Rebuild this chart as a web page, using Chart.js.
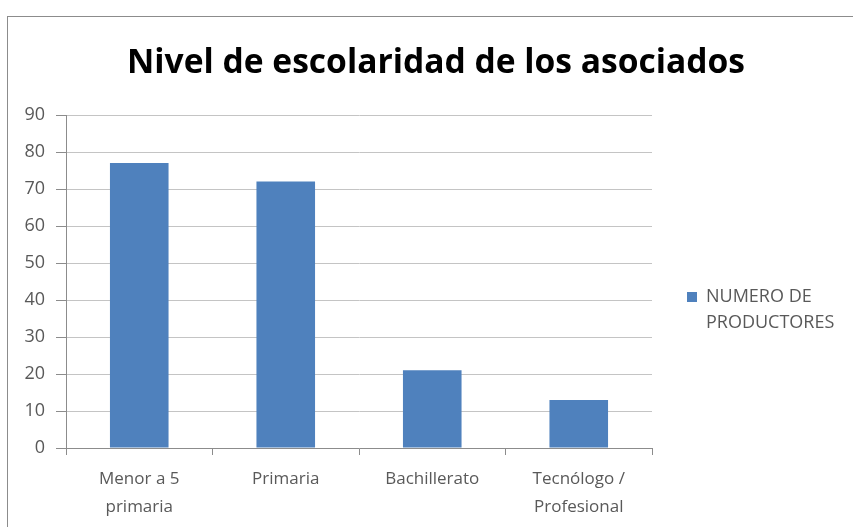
<!DOCTYPE html>
<html>
<head>
<meta charset="utf-8">
<script src="https://cdn.jsdelivr.net/npm/chart.js@4.4.0/dist/chart.umd.min.js"></script>
<style>
  html, body { margin: 0; padding: 0; background: #fff; }
  #wrap { width: 853px; height: 527px; }
</style>
</head>
<body>
<div id="wrap"><canvas id="myChart" width="853" height="527"></canvas></div>
<script>
// datos
const categorias = [["Menor a 5", "primaria"], "Primaria", "Bachillerato", ["Tecnólogo /", "Profesional"]];
const productores = [77, 72, 21, 13];
const serieNombre = ["NUMERO DE", "PRODUCTORES"];
const titulo = "Nivel de escolaridad de los asociados";

const azul = "#4F81BD";

// marco, titulo centrado y leyenda a la derecha
const marcoYLeyenda = {
  id: "marcoYLeyenda",
  beforeDraw(chart) {
    const ctx = chart.ctx;
    ctx.save();
    ctx.fillStyle = "#fff";
    ctx.fillRect(0, 0, chart.width, chart.height);
    ctx.strokeStyle = "#8c8c8c";
    ctx.lineWidth = 1;
    ctx.strokeRect(7.5, 16.5, chart.width + 10, chart.height + 10);
    ctx.restore();
  },
  afterDraw(chart) {
    const ctx = chart.ctx;
    const area = chart.chartArea;
    ctx.save();
    // titulo
    ctx.fillStyle = "#000";
    ctx.font = "bold 33.6px 'Open Sans'";
    ctx.textAlign = "center";
    ctx.textBaseline = "middle";
    ctx.fillText(titulo, 436, 63);
    // leyenda
    const x = area.right + 35;
    const y = 297;
    ctx.fillStyle = azul;
    ctx.fillRect(x, y - 5, 10, 10);
    ctx.fillStyle = "#595959";
    ctx.font = "18px 'Open Sans'";
    ctx.textAlign = "left";
    ctx.fillText(serieNombre[0], x + 19, y);
    ctx.fillText(serieNombre[1], x + 19, y + 26);
    ctx.restore();
  }
};

const data = {
  labels: categorias,
  datasets: [{
    label: serieNombre.join(" "),
    data: productores,
    backgroundColor: azul,
    borderWidth: 0,
    categoryPercentage: 1,
    barPercentage: 0.4,
  }]
};

const config = {
  type: "bar",
  data: data,
  options: {
    responsive: false,
    animation: false,
    layout: {
      padding: { left: 8, right: 201, top: 115, bottom: 0 }
    },
    scales: {
      x: {
        grid: {
          offset: true,
          drawOnChartArea: false,
          drawTicks: true,
          tickLength: 7,
          color: "#8c8c8c",
        },
        border: { color: "#8c8c8c" },
        ticks: {
          color: "#595959",
          font: { family: "'Open Sans'", size: 17, lineHeight: 1.6 },
          padding: 11,
          maxRotation: 0,
        },
        afterFit(scale) { scale.height = 79; }
      },
      y: {
        min: 0,
        max: 90,
        ticks: {
          stepSize: 10,
          color: "#595959",
          font: { family: "'Open Sans'", size: 18 },
          padding: 11,
        },
        grid: {
          color: "#c4c4c4",
          tickLength: 10,
          tickColor: "#8c8c8c",
        },
        border: { color: "#8c8c8c" },
        afterFit(scale) { scale.width = 58; }
      }
    },
    plugins: {
      legend: { display: false },
      tooltip: { enabled: false },
      title: { display: false }
    }
  },
  plugins: [marcoYLeyenda]
};

var ctx = document.getElementById("myChart").getContext("2d");
var myChart = new Chart(ctx, config);
</script>
</body>
</html>
